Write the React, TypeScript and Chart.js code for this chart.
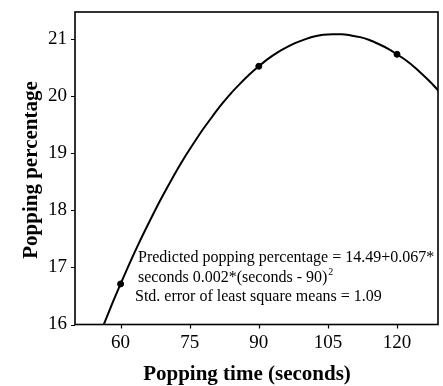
import React, { useEffect, useRef } from "react";
import { Chart, registerables } from "chart.js";
Chart.register(...registerables);

// Fitted curve (popping time in s, predicted popping %)
const curveSeconds = [56, 58, 60, 62, 64, 66, 68, 70, 72, 74, 76, 78, 80, 82, 84, 86, 88, 90, 92, 94, 96, 98, 100, 102, 104, 106, 108, 110, 112, 114, 116, 118, 120, 122, 124, 126, 128, 130];
const curvePercent = [15.93, 16.33, 16.71, 17.08, 17.43, 17.76, 18.08, 18.38, 18.67, 18.94, 19.19, 19.43, 19.65, 19.86, 20.05, 20.22, 20.38, 20.52, 20.65, 20.76, 20.85, 20.93, 20.99, 21.04, 21.07, 21.08, 21.08, 21.06, 21.03, 20.98, 20.91, 20.83, 20.73, 20.62, 20.49, 20.34, 20.18, 20.0];
// Observed means
const pointSeconds = [60, 90, 120];
const pointPercent = [16.71, 20.52, 20.73];
// Axes
const xTicks = [60, 75, 90, 105, 120];
const yTicks = [16, 17, 18, 19, 20, 21];
const xMin = 50.1;
const xMax = 128.9;
const yMin = 16;
const yMax = 21.47;
const xTitle = "Popping time (seconds)";
const yTitle = "Popping percentage";
const noteLine1 = "Predicted popping percentage = 14.49+0.067*";
const noteLine2a = "seconds 0.002*(seconds - 90)";
const noteLine2sup = "2";
const noteLine3 = "Std. error of least square means = 1.09";

const SERIF = "'Liberation Serif', 'Times New Roman', serif";

const framePlugin = {
  id: "frame",
  afterDatasetsDraw(chart: any) {
    const { ctx, chartArea: a, scales } = chart;
    ctx.save();
    ctx.strokeStyle = "#000";
    ctx.lineWidth = 1.6;
    ctx.strokeRect(a.left, a.top, a.right - a.left, a.bottom - a.top);
    ctx.lineWidth = 1.2;
    ctx.beginPath();
    xTicks.forEach((v) => {
      const px = Math.round(scales.x.getPixelForValue(v)) + 0.5;
      ctx.moveTo(px, a.bottom);
      ctx.lineTo(px, a.bottom + 4);
    });
    yTicks.forEach((v) => {
      const py = Math.round(scales.y.getPixelForValue(v)) + 0.5;
      ctx.moveTo(a.left, py);
      ctx.lineTo(a.left - 4, py);
    });
    ctx.stroke();
    ctx.fillStyle = "#000";
    // axis titles
    ctx.font = `bold 21px ${SERIF}`;
    ctx.textAlign = "center";
    ctx.textBaseline = "alphabetic";
    ctx.fillText(xTitle, 247, 380);
    ctx.save();
    ctx.translate(37, 170);
    ctx.rotate(-Math.PI / 2);
    ctx.fillText(yTitle, 0, 0);
    ctx.restore();
    // annotation
    ctx.textAlign = "left";
    ctx.font = `16px ${SERIF}`;
    ctx.fillText(noteLine1, 138, 262);
    ctx.fillText(noteLine2a, 138, 282);
    const w = ctx.measureText(noteLine2a).width;
    ctx.font = `10px ${SERIF}`;
    ctx.fillText(noteLine2sup, 138 + w + 1, 275);
    ctx.font = `16px ${SERIF}`;
    ctx.fillText(noteLine3, 135, 301);
    ctx.restore();
  },
};

export default function App() {
  const ref = useRef<HTMLCanvasElement>(null);
  useEffect(() => {
    const chart = new Chart(ref.current!, {
      type: "scatter",
      data: {
        datasets: [
          {
            data: curveSeconds.map((s, i) => ({ x: s, y: curvePercent[i] })),
            showLine: true,
            borderColor: "#000",
            borderWidth: 2,
            pointRadius: 0,
            tension: 0.4,
            cubicInterpolationMode: "monotone",
          },
          {
            data: pointSeconds.map((s, i) => ({ x: s, y: pointPercent[i] })),
            showLine: false,
            pointRadius: 3,
            pointBackgroundColor: "#000",
            pointBorderColor: "#000",
          },
        ],
      },
      options: {
        animation: false,
        responsive: false,
        devicePixelRatio: 1,
        layout: { padding: { left: 0, right: 3, top: 12, bottom: 0 } },
        plugins: { legend: { display: false }, tooltip: { enabled: false } },
        scales: {
          x: {
            type: "linear",
            min: xMin,
            max: xMax,
            afterBuildTicks: (s: any) => {
              s.ticks = xTicks.map((v) => ({ value: v }));
            },
            afterFit: (s: any) => {
              s.height = 61.5;
              s.paddingLeft = 0;
              s.paddingRight = 0;
            },
            grid: { display: false, drawTicks: false },
            border: { display: false },
            ticks: {
              padding: 7,
              color: "#000",
              font: { family: SERIF, size: 19 },
              maxRotation: 0,
            },
          },
          y: {
            type: "linear",
            min: yMin,
            max: yMax,
            afterBuildTicks: (s: any) => {
              s.ticks = yTicks.map((v) => ({ value: v }));
            },
            afterFit: (s: any) => {
              s.width = 75;
              s.paddingTop = 0;
              s.paddingBottom = 0;
            },
            grid: { display: false, drawTicks: false },
            border: { display: false },
            ticks: {
              padding: 8,
              color: "#000",
              font: { family: SERIF, size: 19 },
            },
          },
        },
      },
      plugins: [framePlugin],
    } as any);
    return () => chart.destroy();
  }, []);
  return (
    <div style={{ position: "fixed", left: 0, top: 0, width: 443, height: 386, background: "#fff" }}>
      <canvas ref={ref} width={443} height={386} style={{ width: 443, height: 386 }} />
    </div>
  );
}
